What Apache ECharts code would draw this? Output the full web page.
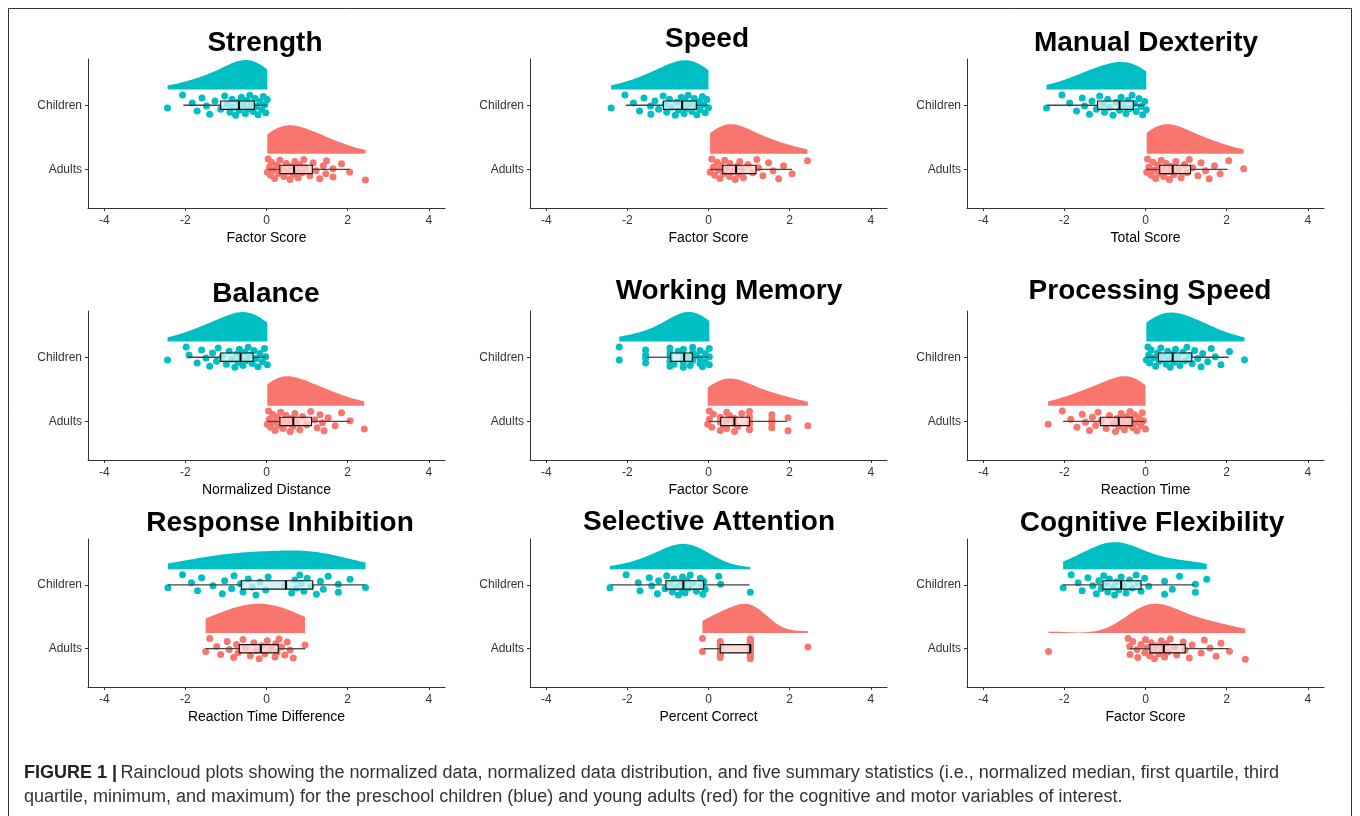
<!DOCTYPE html>
<html><head><meta charset="utf-8">
<script src="https://cdn.jsdelivr.net/npm/echarts@6/dist/echarts.min.js"></script>
<style>html,body{margin:0;padding:0;background:#fff}#c{width:1360px;height:816px}</style>
</head><body><div id="c"></div>
<script>
// ---------- data ----------
const categories = ['Adults', 'Children'];
const panelTitles = ['Strength', 'Speed', 'Manual Dexterity', 'Balance', 'Working Memory', 'Processing Speed', 'Response Inhibition', 'Selective Attention', 'Cognitive Flexibility'];
const axisTitles = ['Factor Score', 'Factor Score', 'Total Score', 'Normalized Distance', 'Factor Score', 'Reaction Time', 'Reaction Time Difference', 'Percent Correct', 'Factor Score'];
const xTickValues = [-4, -2, 0, 2, 4];

const strengthChildren = [-2.44, -2.07, -1.83, -1.71, -1.59, -1.48, -1.40, -1.27, -1.13, -1.03, -0.97, -0.90, -0.85, -0.82, -0.76, -0.70, -0.67, -0.62, -0.58, -0.52, -0.48, -0.44, -0.41, -0.37, -0.33, -0.28, -0.25, -0.21, -0.16, -0.12, -0.08, -0.04, -0.02, 0.02];
const strengthAdults = [0.02, 0.04, 0.07, 0.10, 0.12, 0.16, 0.20, 0.25, 0.30, 0.33, 0.37, 0.43, 0.49, 0.52, 0.58, 0.62, 0.66, 0.70, 0.74, 0.78, 0.82, 0.88, 0.92, 0.95, 1.07, 1.15, 1.22, 1.31, 1.40, 1.46, 1.48, 1.64, 1.64, 1.85, 2.05, 2.44];
const speedChildren = [-2.40, -2.06, -1.85, -1.70, -1.59, -1.43, -1.42, -1.32, -1.23, -1.12, -1.07, -1.03, -0.96, -0.92, -0.82, -0.78, -0.74, -0.67, -0.62, -0.60, -0.58, -0.53, -0.50, -0.45, -0.41, -0.35, -0.30, -0.29, -0.22, -0.21, -0.15, -0.12, -0.08, -0.04, 0.00];
const speedAdults = [0.04, 0.08, 0.12, 0.15, 0.21, 0.25, 0.28, 0.30, 0.37, 0.40, 0.44, 0.52, 0.53, 0.60, 0.66, 0.70, 0.74, 0.77, 0.82, 0.86, 0.97, 1.09, 1.19, 1.23, 1.34, 1.48, 1.59, 1.73, 1.85, 2.06, 2.44];
const dexterityChildren = [-2.44, -2.06, -1.87, -1.70, -1.56, -1.50, -1.38, -1.32, -1.21, -1.13, -1.05, -1.01, -0.93, -0.89, -0.80, -0.72, -0.64, -0.60, -0.54, -0.48, -0.43, -0.39, -0.33, -0.27, -0.23, -0.16, -0.11, -0.07, -0.02, 0.02];
const dexterityAdults = [0.03, 0.05, 0.08, 0.14, 0.18, 0.20, 0.25, 0.30, 0.33, 0.39, 0.42, 0.45, 0.51, 0.55, 0.59, 0.63, 0.70, 0.75, 0.80, 0.88, 0.96, 1.02, 1.08, 1.16, 1.29, 1.37, 1.48, 1.57, 1.70, 1.84, 2.05, 2.42];
const balanceChildren = [-2.44, -1.98, -1.91, -1.71, -1.60, -1.49, -1.40, -1.33, -1.23, -1.19, -1.09, -0.99, -0.92, -0.86, -0.78, -0.74, -0.70, -0.67, -0.64, -0.58, -0.53, -0.49, -0.45, -0.41, -0.35, -0.31, -0.25, -0.21, -0.16, -0.10, -0.05, -0.02, 0.02];
const balanceAdults = [0.02, 0.05, 0.07, 0.10, 0.15, 0.18, 0.21, 0.25, 0.29, 0.35, 0.40, 0.41, 0.48, 0.53, 0.58, 0.62, 0.65, 0.70, 0.74, 0.82, 0.89, 0.99, 1.09, 1.19, 1.25, 1.32, 1.38, 1.42, 1.52, 1.69, 1.85, 2.06, 2.41];
const memoryChildren = [-2.20, -2.20, -1.55, -1.55, -1.55, -1.55, -0.95, -0.95, -0.95, -0.95, -0.95, -0.85, -0.75, -0.62, -0.62, -0.62, -0.62, -0.62, -0.52, -0.45, -0.39, -0.39, -0.39, -0.30, -0.21, -0.21, -0.21, -0.15, -0.08, -0.08, 0.02, 0.02, 0.02];
const memoryAdults = [-0.02, 0.02, 0.02, 0.08, 0.12, 0.29, 0.29, 0.29, 0.37, 0.45, 0.45, 0.45, 0.52, 0.64, 0.64, 0.64, 0.72, 0.82, 1.01, 1.01, 1.01, 1.01, 1.01, 1.56, 1.56, 1.56, 1.56, 1.96, 1.96, 2.45];
const procSpeedChildren = [0.02, 0.06, 0.08, 0.10, 0.14, 0.20, 0.25, 0.30, 0.34, 0.38, 0.43, 0.51, 0.55, 0.58, 0.61, 0.67, 0.70, 0.74, 0.80, 0.85, 0.92, 0.98, 1.02, 1.08, 1.15, 1.21, 1.29, 1.37, 1.41, 1.53, 1.62, 1.72, 1.86, 2.07, 2.44];
const procSpeedAdults = [-2.40, -2.05, -1.84, -1.69, -1.56, -1.48, -1.38, -1.31, -1.23, -1.17, -1.09, -0.97, -0.89, -0.80, -0.74, -0.70, -0.66, -0.60, -0.57, -0.52, -0.45, -0.43, -0.38, -0.35, -0.31, -0.27, -0.25, -0.21, -0.16, -0.11, -0.08, -0.05, 0.00];
const inhibitionChildren = [-2.43, -2.07, -1.85, -1.70, -1.60, -1.32, -1.09, -1.03, -0.86, -0.80, -0.64, -0.58, -0.45, -0.35, -0.26, -0.16, -0.02, 0.04, 0.45, 0.62, 0.70, 0.74, 0.82, 0.86, 0.92, 1.00, 1.09, 1.23, 1.33, 1.40, 1.52, 1.77, 1.77, 2.06, 2.44];
const inhibitionAdults = [-1.50, -1.40, -1.23, -1.13, -0.97, -0.92, -0.81, -0.74, -0.70, -0.58, -0.51, -0.40, -0.31, -0.25, -0.18, -0.12, -0.04, 0.02, 0.10, 0.21, 0.23, 0.26, 0.31, 0.37, 0.45, 0.51, 0.58, 0.66, 0.95];
const attentionChildren = [-2.43, -2.03, -1.73, -1.69, -1.46, -1.40, -1.26, -1.23, -1.07, -1.03, -0.96, -0.89, -0.85, -0.80, -0.74, -0.70, -0.65, -0.64, -0.60, -0.58, -0.53, -0.49, -0.45, -0.39, -0.30, -0.20, -0.16, -0.14, -0.12, -0.08, 0.25, 0.30, 1.03];
const attentionAdults = [-0.15, -0.15, 0.29, 0.29, 0.29, 0.29, 0.29, 0.29, 0.29, 1.03, 1.03, 1.03, 1.03, 1.03, 1.03, 1.03, 1.03, 1.03, 1.03, 1.03, 1.03, 1.03, 1.03, 2.45];
const flexibilityChildren = [-2.03, -1.83, -1.66, -1.56, -1.42, -1.30, -1.21, -1.15, -1.09, -1.03, -0.97, -0.93, -0.89, -0.80, -0.76, -0.72, -0.66, -0.60, -0.54, -0.48, -0.39, -0.33, -0.23, -0.19, -0.11, -0.02, 0.08, 0.47, 0.47, 0.66, 0.84, 1.23, 1.23, 1.51];
const flexibilityAdults = [-2.39, -0.43, -0.39, -0.38, -0.31, -0.21, -0.19, -0.11, -0.02, 0.00, 0.03, 0.10, 0.14, 0.18, 0.22, 0.26, 0.33, 0.39, 0.42, 0.47, 0.51, 0.55, 0.61, 0.71, 0.77, 0.93, 0.98, 1.08, 1.15, 1.37, 1.45, 1.59, 1.74, 1.86, 2.07, 2.46];

// box stats: [min, q1, median, q3, max]
const strengthChildrenBox = [-2.05, -1.13, -0.68, -0.30, 0.00];
const strengthAdultsBox = [0.04, 0.33, 0.68, 1.13, 2.04];
const speedChildrenBox = [-2.04, -1.11, -0.65, -0.30, -0.02];
const speedAdultsBox = [0.04, 0.35, 0.68, 1.17, 2.06];
const dexterityChildrenBox = [-2.42, -1.18, -0.64, -0.30, -0.02];
const dexterityAdultsBox = [0.02, 0.35, 0.67, 1.11, 2.02];
const balanceChildrenBox = [-1.94, -1.13, -0.64, -0.33, -0.02];
const balanceAdultsBox = [0.02, 0.33, 0.66, 1.11, 2.06];
const memoryChildrenBox = [-1.52, -0.93, -0.60, -0.40, 0.00];
const memoryAdultsBox = [0.00, 0.30, 0.64, 1.01, 1.93];
const procSpeedChildrenBox = [0.02, 0.32, 0.67, 1.14, 2.05];
const procSpeedAdultsBox = [-2.03, -1.11, -0.66, -0.33, -0.02];
const inhibitionChildrenBox = [-2.43, -0.62, 0.48, 1.14, 2.41];
const inhibitionAdultsBox = [-1.50, -0.67, -0.14, 0.29, 0.95];
const attentionChildrenBox = [-2.41, -1.05, -0.62, -0.12, 1.01];
const attentionAdultsBox = [-0.12, 0.29, 1.03, 1.03, 1.03];
const flexibilityChildrenBox = [-2.03, -1.05, -0.60, -0.11, 1.20];
const flexibilityAdultsBox = [-0.39, 0.11, 0.45, 0.98, 2.05];

const childrenPoints = [strengthChildren, speedChildren, dexterityChildren, balanceChildren, memoryChildren, procSpeedChildren, inhibitionChildren, attentionChildren, flexibilityChildren];
const adultsPoints = [strengthAdults, speedAdults, dexterityAdults, balanceAdults, memoryAdults, procSpeedAdults, inhibitionAdults, attentionAdults, flexibilityAdults];
const childrenBoxes = [strengthChildrenBox, speedChildrenBox, dexterityChildrenBox, balanceChildrenBox, memoryChildrenBox, procSpeedChildrenBox, inhibitionChildrenBox, attentionChildrenBox, flexibilityChildrenBox];
const adultsBoxes = [strengthAdultsBox, speedAdultsBox, dexterityAdultsBox, balanceAdultsBox, memoryAdultsBox, procSpeedAdultsBox, inhibitionAdultsBox, attentionAdultsBox, flexibilityAdultsBox];
const kdeBandwidth = [0.45, 0.45, 0.45, 0.45, 0.45, 0.45, 0.8, 0.45, 0.48];

// ---------- layout / style ----------
const FONT = '"Liberation Sans", Arial, sans-serif';
const TEAL = '#00BFC4', SALMON = '#F8766D';
const colLeft = [88, 530, 967], colWidth = 357;
const rowTop = [59, 311, 539], rowHeight = [149, 149, 148];
const titlePos = [[265, 43], [707, 39], [1146, 43], [266, 294], [729, 291], [1150, 291], [280, 523], [709, 522], [1152, 523]];
const CLOUD_BASE = 0.245, CLOUD_H = 0.46, JIT = 0.165, BOX_H = 0.065;

function kde(vals, bw) {
  const mn = Math.min(...vals), mx = Math.max(...vals), n = 80, out = [];
  for (let i = 0; i <= n; i++) {
    const x = mn + (mx - mn) * i / n;
    let s = 0;
    for (const v of vals) { const z = (x - v) / bw; s += Math.exp(-0.5 * z * z); }
    out.push([x, s / (vals.length * bw * Math.sqrt(2 * Math.PI))]);
  }
  return out;
}
function jitter(i) { const f = (i * 0.6180339887 + 0.37) % 1; return (f - 0.5) * 2 * JIT; }

const grids = [], xAxes = [], yAxes = [], series = [], graphics = [];
for (let p = 0; p < 9; p++) {
  const r = Math.floor(p / 3), c = p % 3;
  grids.push({ left: colLeft[c], top: rowTop[r], width: colWidth, height: rowHeight[r] });
  xAxes.push({
    gridIndex: p, type: 'value', min: -4.4, max: 4.4,
    name: axisTitles[p], nameLocation: 'middle', nameGap: 23,
    nameTextStyle: { fontFamily: FONT, fontSize: 14, color: '#000' },
    axisLine: { onZero: false, lineStyle: { color: '#333', width: 1 } },
    axisTick: { customValues: xTickValues, length: 3, lineStyle: { color: '#333' } },
    axisLabel: { customValues: xTickValues, margin: 7, fontFamily: FONT, fontSize: 12, color: '#333', formatter: v => String(v) },
    splitLine: { show: false }
  });
  yAxes.push({
    gridIndex: p, type: 'value', min: 0.4, max: 2.72,
    axisLine: { show: true, onZero: false, lineStyle: { color: '#333', width: 1 } },
    axisTick: { show: true, customValues: [1, 2], length: 3, lineStyle: { color: '#333' } },
    axisLabel: { customValues: [1, 2], margin: 6, fontFamily: FONT, fontSize: 12, color: '#333', formatter: v => categories[Math.round(v) - 1] },
    splitLine: { show: false }
  });
  const groups = [
    { pts: childrenPoints[p], box: childrenBoxes[p], cat: 2, color: TEAL, boxFill: 'rgba(200,242,243,0.78)' },
    { pts: adultsPoints[p], box: adultsBoxes[p], cat: 1, color: SALMON, boxFill: 'rgba(253,212,209,0.78)' }
  ];
  const dens = groups.map(g => kde(g.pts, kdeBandwidth[p]));
  const dmax = Math.max(...dens.map(d => Math.max(...d.map(q => q[1]))));
  groups.forEach((g, gi) => {
    const base = g.cat + CLOUD_BASE;
    const cloud = dens[gi].map(q => [q[0], base + CLOUD_H * q[1] / dmax]);
    series.push({
      type: 'custom', xAxisIndex: p, yAxisIndex: p, data: cloud, encode: { x: 0, y: 1 }, silent: true, z: 1,
      renderItem: (params, api) => {
        if (params.dataIndex !== 0) return null;
        const pts = cloud.map(d => api.coord(d));
        pts.push(api.coord([cloud[cloud.length - 1][0], base]));
        pts.push(api.coord([cloud[0][0], base]));
        return { type: 'polygon', shape: { points: pts }, style: { fill: g.color } };
      }
    });
  });
  groups.forEach(g => {
    series.push({
      type: 'scatter', xAxisIndex: p, yAxisIndex: p, symbol: 'circle', symbolSize: 7, silent: true, z: 2,
      itemStyle: { color: g.color, opacity: 1 },
      data: g.pts.map((v, i) => [v, g.cat + jitter(i)])
    });
  });
  groups.forEach(g => {
    series.push({
      type: 'custom', xAxisIndex: p, yAxisIndex: p, silent: true, z: 3,
      data: [[...g.box, g.cat]], encode: { x: [0, 1, 2, 3, 4], y: 5 },
      renderItem: (params, api) => {
        const mn = api.value(0), q1 = api.value(1), md = api.value(2), q3 = api.value(3), mx = api.value(4), ct = api.value(5);
        const pMin = api.coord([mn, ct]), pQ1 = api.coord([q1, ct]), pQ3 = api.coord([q3, ct]), pMax = api.coord([mx, ct]);
        const top = api.coord([q1, ct + BOX_H])[1], bot = api.coord([q1, ct - BOX_H])[1];
        const xm = api.coord([md, ct])[0];
        return { type: 'group', children: [
          { type: 'line', shape: { x1: pMin[0], y1: pMin[1], x2: pQ1[0], y2: pQ1[1] }, style: { stroke: '#444', lineWidth: 1.3 } },
          { type: 'line', shape: { x1: pQ3[0], y1: pQ3[1], x2: pMax[0], y2: pMax[1] }, style: { stroke: '#444', lineWidth: 1.3 } },
          { type: 'rect', shape: { x: pQ1[0], y: top, width: Math.max(pQ3[0] - pQ1[0], 0.5), height: bot - top }, style: { fill: g.boxFill, stroke: '#111', lineWidth: 1.1 } },
          { type: 'line', shape: { x1: xm, y1: top, x2: xm, y2: bot }, style: { stroke: '#000', lineWidth: 2 } }
        ] };
      }
    });
  });
  graphics.push({ type: 'text', x: titlePos[p][0], y: titlePos[p][1], silent: true,
    style: { text: panelTitles[p], font: 'bold 28px ' + FONT, fill: '#000', align: 'center', verticalAlign: 'middle' } });
}

graphics.push({ type: 'rect', silent: true, z: -1, shape: { x: 8.5, y: 8.5, width: 1343, height: 840 }, style: { fill: 'none', stroke: '#333', lineWidth: 1 } });
const captionLine1 = 'Raincloud plots showing the normalized data, normalized data distribution, and five summary statistics (i.e., normalized median, first quartile, third';
const captionLine2 = 'quartile, minimum, and maximum) for the preschool children (blue) and young adults (red) for the cognitive and motor variables of interest.';
graphics.push({ type: 'text', x: 24, y: 773, silent: true, style: {
  text: '{b|FIGURE 1 |} {n|' + captionLine1 + '}', verticalAlign: 'middle',
  rich: { b: { font: 'bold 18px ' + FONT, fill: '#222' }, n: { font: '18px ' + FONT, fill: '#333' } } } });
graphics.push({ type: 'text', x: 24, y: 797, silent: true, style: { text: captionLine2, font: '18px ' + FONT, fill: '#333', verticalAlign: 'middle' } });

const chart = echarts.init(document.getElementById('c'), null, { renderer: 'canvas' });
chart.setOption({ animation: false, backgroundColor: '#fff', grid: grids, xAxis: xAxes, yAxis: yAxes, series: series, graphic: graphics });
</script></body></html>
